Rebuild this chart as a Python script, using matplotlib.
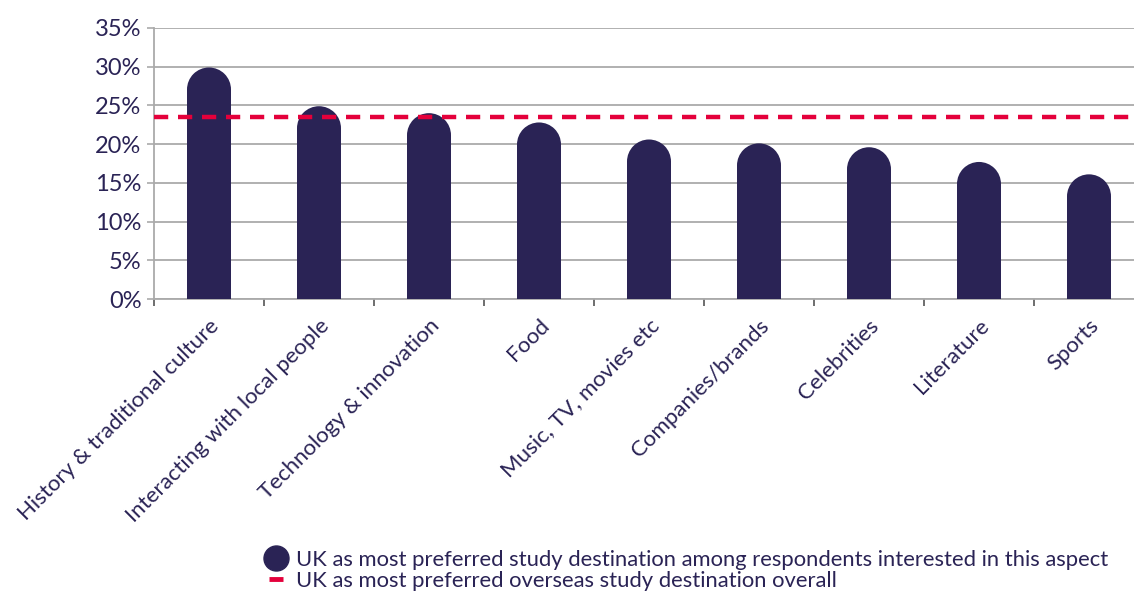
import matplotlib
matplotlib.use('Agg')
import matplotlib.pyplot as plt
from matplotlib.patches import Ellipse
from matplotlib.lines import Line2D
from matplotlib.ticker import FuncFormatter

categories = ['History & traditional culture', 'Interacting with local people',
              'Technology & innovation', 'Food', 'Music, TV, movies etc',
              'Companies/brands', 'Celebrities', 'Literature', 'Sports']
values = [29.9, 24.9, 24.0, 22.8, 20.6, 20.1, 19.6, 17.7, 16.1]
overall = 23.5
legend_labels = ['UK as most preferred study destination among respondents interested in this aspect',
                 'UK as most preferred overseas study destination overall']

navy = '#2a2355'
red = '#e4003b'
grid_col = '#aaaaaa'

plt.rcParams['font.family'] = ['Lato', 'DejaVu Sans']

W, H = 11.34, 5.92
fig = plt.figure(figsize=(W, H), dpi=100)
left, bottom = 154 / 1134, 1 - 299 / 592
width, height = 990 / 1134, 271 / 592
ax = fig.add_axes([left, bottom, width, height])

ax.set_xlim(-0.5, len(categories) - 0.5)
ax.set_ylim(0, 35)

bar_w = 0.4
# radius of round cap in data units (y), so that the cap is a true semicircle
px_per_x = width * W * 100 / len(categories)
px_per_y = height * H * 100 / 35
r_y = bar_w * px_per_x / 2 / px_per_y

x = list(range(len(categories)))
ax.bar(x, [v - r_y for v in values], width=bar_w, color=navy, zorder=3)
for xi, v in zip(x, values):
    ax.add_patch(Ellipse((xi, v - r_y), bar_w, 2 * r_y, color=navy, zorder=3, lw=0))

ax.axhline(overall, color=red, lw=3.2, ls=(0, (3.2, 2.2)), zorder=4)

ax.set_yticks(range(0, 36, 5))
ax.yaxis.set_major_formatter(FuncFormatter(lambda v, p: f'{int(v)}%'))
ax.grid(axis='y', color=grid_col, lw=1.3, zorder=0)
ax.set_axisbelow(True)

ax.set_xticks([i - 0.5 for i in range(len(categories))] + [len(categories) - 0.5])
ax.set_xticklabels([])
ax.set_xticks(x, minor=True)
ax.set_xticklabels(categories, minor=True, rotation=45, ha='right',
                   rotation_mode='anchor', fontsize=16, color=navy)
ax.tick_params(axis='x', which='minor', length=0, pad=12)
ax.tick_params(axis='x', which='major', length=5, width=1.2, color='#555555', direction='out')
ax.tick_params(axis='y', length=5, width=1.2, color=grid_col, labelsize=17,
               labelcolor=navy, pad=4)

for s in ['top', 'right']:
    ax.spines[s].set_visible(False)
ax.spines['left'].set_color(grid_col)
ax.spines['left'].set_linewidth(1.3)
ax.spines['bottom'].set_color(grid_col)
ax.spines['bottom'].set_linewidth(1.3)

handles = [Line2D([], [], ls='none', marker='o', ms=18, color=navy),
           Line2D([], [], ls='none', marker='_', ms=10, mew=3.5, color=red)]
fig.legend(handles, legend_labels, loc='upper left', bbox_to_anchor=(256 / 1134, 1 - 539 / 592),
           frameon=False, fontsize=15.8, labelcolor=navy, handlelength=0.8,
           handletextpad=0.5, labelspacing=0.05, borderpad=0)

fig.savefig('out.png', dpi=100)
